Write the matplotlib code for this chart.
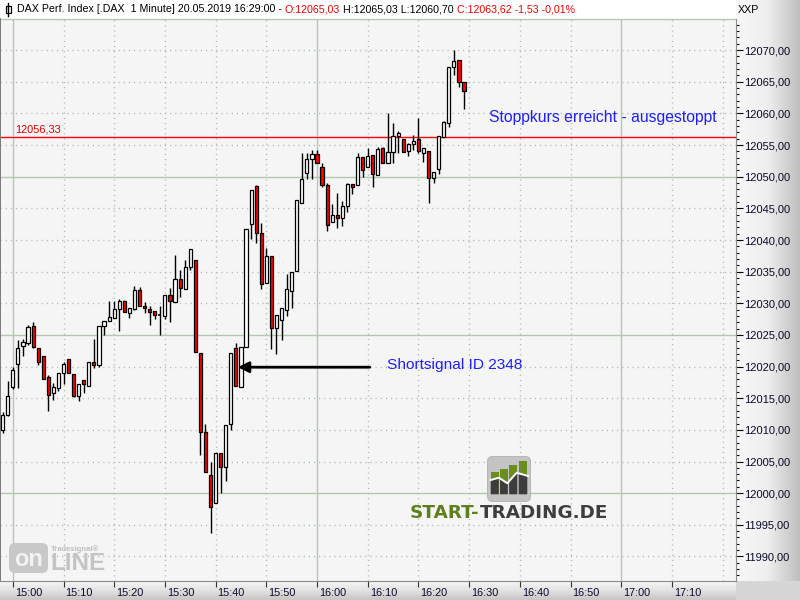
import numpy as np
import matplotlib
matplotlib.use("Agg")
import matplotlib.pyplot as plt
from matplotlib.patches import Rectangle, FancyBboxPatch, Polygon
from matplotlib.colors import LinearSegmentedColormap
from matplotlib.ticker import MultipleLocator

plt.rcParams['font.family'] = ['Liberation Sans', 'DejaVu Sans']

# ---------------- data ----------------
first_bar = "14:58"
opens = [12010.0, 12012.4, 12016.75, 12020.4, 12023.3, 12023.7, 12026.4, 12022.95, 12021.7, 12018.4,
         12015.85, 12016.6, 12019.0, 12021.2, 12018.85, 12015.4, 12017.9, 12017.0, 12020.7, 12020.3,
         12026.4, 12027.15, 12027.7, 12029.05, 12030.4, 12028.4, 12029.15, 12032.1, 12029.6, 12029.15,
         12028.8, 12028.1, 12028.0, 12031.33, 12030.2, 12033.85, 12032.3, 12035.7, 12036.85, 12022.2,
         12009.7, 12002.85, 11998.5, 12006.4, 12004.2, 12011.0, 12023.0, 12016.7, 12023.1, 12042.5,
         12048.6, 12041.1, 12033.2, 12037.5, 12026.1, 12027.4, 12029.0, 12032.0, 12035.1, 12045.85,
         12050.6, 12052.8, 12053.6, 12051.5, 12048.7, 12042.8, 12044.0, 12043.5, 12045.4, 12048.85,
         12048.7, 12053.1, 12051.6, 12053.4, 12050.3, 12054.5, 12052.2, 12053.9, 12056.5, 12055.9,
         12054.0, 12055.2, 12055.9, 12053.8, 12054.1, 12049.8, 12051.2, 12056.25, 12058.5, 12067.4,
         12068.45, 12065.03]
highs = [12012.8, 12017.8, 12019.9, 12024.2, 12024.4, 12026.5, 12027.0, 12022.95, 12021.7, 12018.6,
         12017.4, 12019.0, 12020.7, 12021.2, 12018.85, 12017.3, 12017.9, 12020.7, 12024.4, 12026.4,
         12027.2, 12030.4, 12030.4, 12030.6, 12030.5, 12029.25, 12032.7, 12032.6, 12030.25, 12029.5,
         12028.8, 12029.5, 12031.33, 12032.4, 12037.7, 12035.3, 12036.85, 12038.6, 12036.85, 12022.2,
         12010.9, 12004.9, 12006.4, 12006.4, 12010.7, 12022.2, 12023.8, 12023.1, 12041.75, 12047.95,
         12048.75, 12042.7, 12038.75, 12037.5, 12028.2, 12029.3, 12034.65, 12035.0, 12046.3, 12053.8,
         12053.7, 12054.2, 12054.2, 12052.1, 12048.95, 12045.7, 12047.5, 12046.1, 12049.0, 12048.85,
         12053.7, 12053.1, 12054.5, 12053.4, 12054.7, 12054.7, 12060.0, 12058.5, 12057.15, 12055.9,
         12055.3, 12056.6, 12059.25, 12054.6, 12054.1, 12050.7, 12056.5, 12058.8, 12067.35, 12070.0,
         12068.45, 12065.03]
lows = [12009.5, 12012.2, 12016.4, 12016.6, 12021.6, 12023.4, 12023.0, 12020.3, 12018.0, 12013.0,
        12014.75, 12016.2, 12017.3, 12019.0, 12015.2, 12014.5, 12015.8, 12017.0, 12019.7, 12019.9,
        12025.0, 12027.15, 12027.7, 12025.6, 12028.6, 12027.7, 12029.0, 12029.6, 12028.4, 12026.6,
        12027.5, 12025.0, 12027.55, 12027.0, 12030.2, 12031.0, 12032.3, 12035.3, 12022.3, 12006.0,
        12003.3, 11993.7, 11998.4, 11999.95, 12001.95, 12010.0, 12017.0, 12016.7, 12023.1, 12040.1,
        12039.6, 12032.3, 12033.2, 12022.8, 12022.0, 12024.2, 12028.0, 12029.3, 12035.1, 12045.85,
        12049.6, 12049.6, 12052.1, 12048.3, 12041.4, 12042.8, 12041.85, 12042.2, 12044.5, 12047.3,
        12048.7, 12049.9, 12051.6, 12048.3, 12050.3, 12052.2, 12052.2, 12052.1, 12053.8, 12053.9,
        12053.2, 12054.3, 12053.7, 12052.3, 12045.8, 12048.95, 12050.5, 12056.25, 12057.9, 12066.0,
        12064.1, 12060.70]
closes = [12012.3, 12015.4, 12019.5, 12022.95, 12023.95, 12026.3, 12023.05, 12020.7, 12018.1, 12015.5,
          12016.7, 12019.0, 12020.4, 12019.0, 12015.3, 12017.3, 12017.2, 12020.7, 12020.3, 12026.4,
          12027.2, 12027.9, 12029.1, 12030.4, 12028.6, 12029.25, 12032.1, 12029.6, 12029.2, 12028.7,
          12028.15, 12028.05, 12031.33, 12030.3, 12033.85, 12032.4, 12035.75, 12038.6, 12022.3, 12009.6,
          12003.3, 11997.75, 12006.4, 12004.2, 12010.7, 12022.2, 12017.0, 12023.1, 12041.75, 12047.95,
          12041.1, 12033.1, 12037.5, 12026.1, 12028.2, 12029.3, 12032.2, 12035.0, 12046.3, 12049.6,
          12052.8, 12053.6, 12052.1, 12048.7, 12042.4, 12044.0, 12043.5, 12045.4, 12048.9, 12048.4,
          12053.1, 12051.0, 12053.3, 12050.4, 12054.4, 12052.2, 12053.9, 12056.5, 12056.9, 12053.9,
          12055.1, 12055.7, 12054.05, 12054.5, 12049.8, 12050.7, 12056.5, 12058.7, 12067.35, 12068.3,
          12065.0, 12063.62]

stop_price = 12056.33
signal_price = 12019.9
signal_from_time = "16:10"
signal_to_time = "15:44"
header_name = "DAX Perf. Index [.DAX  1 Minute] 20.05.2019 16:29:00 - "
last_open, last_high, last_low, last_close = 12065.03, 12065.03, 12060.70, 12063.62
last_change, last_change_pct = -1.53, -0.01
signal_label = "Shortsignal ID 2348"
stop_label = "Stoppkurs erreicht - ausgestoppt"
x_tick_labels = ["15:00", "15:10", "15:20", "15:30", "15:40", "15:50", "16:00",
                 "16:10", "16:20", "16:30", "16:40", "16:50", "17:00", "17:10"]
y_tick_values = list(range(11990, 12075, 5))


def minutes(t):
    h, m = t.split(":")
    return int(h) * 60 + int(m) - 15 * 60


def fmt(v):
    return f"{v:.2f}".replace(".", ",")


xs = minutes(first_bar) + np.arange(len(opens))
x_tick_pos = [minutes(t) for t in x_tick_labels]

# ---------------- figure ----------------
W, H = 800, 600
fig = plt.figure(figsize=(8, 6), dpi=100)
fig.patch.set_facecolor('#F5F5F5')

bg = fig.add_axes([0, 0, 1, 1], zorder=0)
bg.axis('off')
bg.add_patch(Rectangle((0, 0), 736, 18, facecolor='white', edgecolor='none'))
cm_r = LinearSegmentedColormap.from_list('r', ['#F8F8F8', '#EEEEEE', '#BEBEBE'])
bg.imshow(np.linspace(0, 1, 256)[None, :], extent=(736, 800, 581, 0), cmap=cm_r,
          aspect='auto', origin='upper')
cm_b = LinearSegmentedColormap.from_list('b', ['#F6F6F6', '#E2E2E2', '#C6C6C6'])
bg.imshow(np.linspace(0, 1, 64)[:, None], extent=(0, 736, 600, 581), cmap=cm_b,
          aspect='auto', origin='upper')
bg.add_patch(Rectangle((736, 581), 64, 19, facecolor='#D6D6D6', edgecolor='none'))
bg.set_xlim(0, W)
bg.set_ylim(H, 0)

# main axes
ax = fig.add_axes([0, 19 / 600, 736 / 800, 562 / 600], zorder=2)
ax.set_facecolor('#F5F5F5')
px_per_min = 5.07
ax.set_xlim(-12.8 / px_per_min, (736 - 12.8) / px_per_min)
ax.set_ylim(12050 - 405 / 6.34, 12050 + 158 / 6.34)

green = '#B2CAAC'
dotc = '#A9B9A9'
for v in range(11985, 12080, 5):
    if v % 25 == 0:
        ax.axhline(v, color=green, lw=1, zorder=1)
    else:
        ax.axhline(v, color=dotc, lw=1, ls=(0, (0.8, 2.9)), zorder=1)
for m in range(-10, 150, 10):
    if m % 60 == 0:
        ax.axvline(m, color=green, lw=1, zorder=1)
    else:
        ax.axvline(m, color=dotc, lw=1, ls=(0, (0.8, 2.9)), zorder=1)

# candles
bw = 0.62
for x, o, h, l, c in zip(xs, opens, highs, lows, closes):
    ax.vlines(x, l, h, color='black', lw=1.0, zorder=3)
    bot, top = min(o, c), max(o, c)
    fc = '#FF0000' if c < o else 'white'
    if top - bot < 0.12:
        ax.hlines(o, x - bw / 2, x + bw / 2, color='black', lw=1.2, zorder=4)
    else:
        ax.add_patch(Rectangle((x - bw / 2, bot), bw, top - bot, facecolor=fc,
                               edgecolor='black', lw=0.9, zorder=4))

# stop line
ax.axhline(stop_price, color='#FF0000', lw=1, zorder=2)
ax.annotate(fmt(stop_price), xy=(0, stop_price), xycoords=('axes fraction', 'data'),
            xytext=(15, 2), textcoords='offset pixels', color='#E00000',
            fontsize=7.9, va='bottom', ha='left')

# signal arrow and texts
ax.annotate('', xy=(minutes(signal_to_time) + 0.4, signal_price),
            xytext=(minutes(signal_from_time) + 0.4, signal_price),
            arrowprops=dict(arrowstyle='-|>', color='black', lw=2, mutation_scale=16,
                            shrinkA=0, shrinkB=0), zorder=6)
ax.text(73.8, 12020.2, signal_label, color='#1E1EFF', fontsize=11.1, va='center', ha='left', zorder=6)
ax.text(93.9, 12059.3, stop_label, color='#1E1EFF', fontsize=11.3, va='center', ha='left', zorder=6)

# axes styling
ax.yaxis.tick_right()
ax.set_yticks(y_tick_values, [fmt(v) for v in y_tick_values])
ax.yaxis.set_minor_locator(MultipleLocator(1))
ax.tick_params(axis='y', which='major', length=5, width=0.8, color='black', pad=1,
               labelsize=8, labelcolor='#0A0A28')
ax.tick_params(axis='y', which='minor', length=1.8, width=0.8, color='black')
ax.set_xticks(x_tick_pos, [''] * len(x_tick_pos))
ax.tick_params(axis='x', which='major', length=4.5, width=0.8, color='#333333')
for pos, lab in zip(x_tick_pos, x_tick_labels):
    ax.annotate(lab, xy=(pos, 0), xycoords=('data', 'axes fraction'), xytext=(2, -7),
                textcoords='offset pixels', va='top', ha='left', fontsize=7.8,
                color='#0A0A28', annotation_clip=False)
ax.spines['top'].set_visible(False)
ax.spines['left'].set_color('#7A7A7A')
ax.spines['left'].set_linewidth(1.4)
ax.spines['bottom'].set_color('#8A8A8A')
ax.spines['right'].set_color('#8A8A8A')

# overlay (header, logos)
ov = fig.add_axes([0, 0, 1, 1], zorder=3)
ov.set_xlim(0, W)
ov.set_ylim(H, 0)
ov.axis('off')
ov.patch.set_alpha(0)

# header icon
ov.plot([8, 8], [3, 16], color='black', lw=1)
ov.add_patch(Rectangle((5.5, 6), 5, 7, facecolor='white', edgecolor='black', lw=0.9))
hs = 7.7
t0 = ov.text(17, 9.5, header_name, fontsize=hs, va='center', ha='left', color='black')
t1 = ov.annotate(f"O:{fmt(last_open)}", xy=(1, 0), xycoords=t0, va='bottom', ha='left',
                 fontsize=hs, color='#F00000')
t2 = ov.annotate(f" H:{fmt(last_high)} L:{fmt(last_low)} ", xy=(1, 0), xycoords=t1,
                 va='bottom', ha='left', fontsize=hs, color='black')
t3 = ov.annotate(f"C:{fmt(last_close)} {fmt(last_change)} {fmt(last_change_pct)}%", xy=(1, 0),
                 xycoords=t2, va='bottom', ha='left', fontsize=hs, color='#F00000')
ov.text(738, 10, "XXP", fontsize=7.7, va='center', ha='left', color='black')

# START-TRADING.DE logo
ov.add_patch(FancyBboxPatch((489, 458), 40, 42, boxstyle='round,pad=1.5,rounding_size=5',
                            facecolor='#C4C4C4', edgecolor='#B0B0B0', lw=0.6))
line_x = [490.7, 499, 507.3, 516.7, 528]
line_y = [480, 477.7, 483.3, 472.7, 476]
bars = [(490.7, 498.7, 472.3), (500, 507.7, 469), (509.3, 517.3, 465), (518.7, 527.3, 461)]
for x0, x1, top in bars:
    ov.add_patch(Rectangle((x0, top), x1 - x0, 494.3 - top, facecolor='#6A8E1E', edgecolor='none'))
    y0, y1 = np.interp(x0, line_x, line_y), np.interp(x1, line_x, line_y)
    ov.add_patch(Polygon([(x0, y0), (x1, y1), (x1, 494.3), (x0, 494.3)], closed=True,
                         facecolor='#3C3C3C', edgecolor='none'))
ov.plot(line_x, line_y, color='white', lw=1.4)
st = ov.text(410, 512.5, "START-", fontsize=13.2, fontweight='bold', family='DejaVu Sans',
             color='#5F7F1C', va='center', ha='left')
ov.annotate("TRADING.DE", xy=(1, 0), xycoords=st, va='bottom', ha='left', fontsize=13.2,
            fontweight='bold', family='DejaVu Sans', color='#3E3E3E')

# Tradesignal online logo
ov.add_patch(FancyBboxPatch((10, 544), 37, 28, boxstyle='round,pad=1,rounding_size=6',
                            facecolor='#C8C8C8', edgecolor='none'))
ov.text(28.5, 559, "on", fontsize=17, fontweight='bold', color='#F2F2F2', va='center', ha='center')
ov.text(50, 564, "LINE", fontsize=17.5, fontweight='bold', color='#C4C4C4', va='center', ha='left')
ov.text(51, 549.5, "Tradesignal\u00ae", fontsize=5.5, fontweight='bold', color='#BEBEBE',
        va='center', ha='left')

fig.savefig("out.png", dpi=100, facecolor=fig.get_facecolor())
